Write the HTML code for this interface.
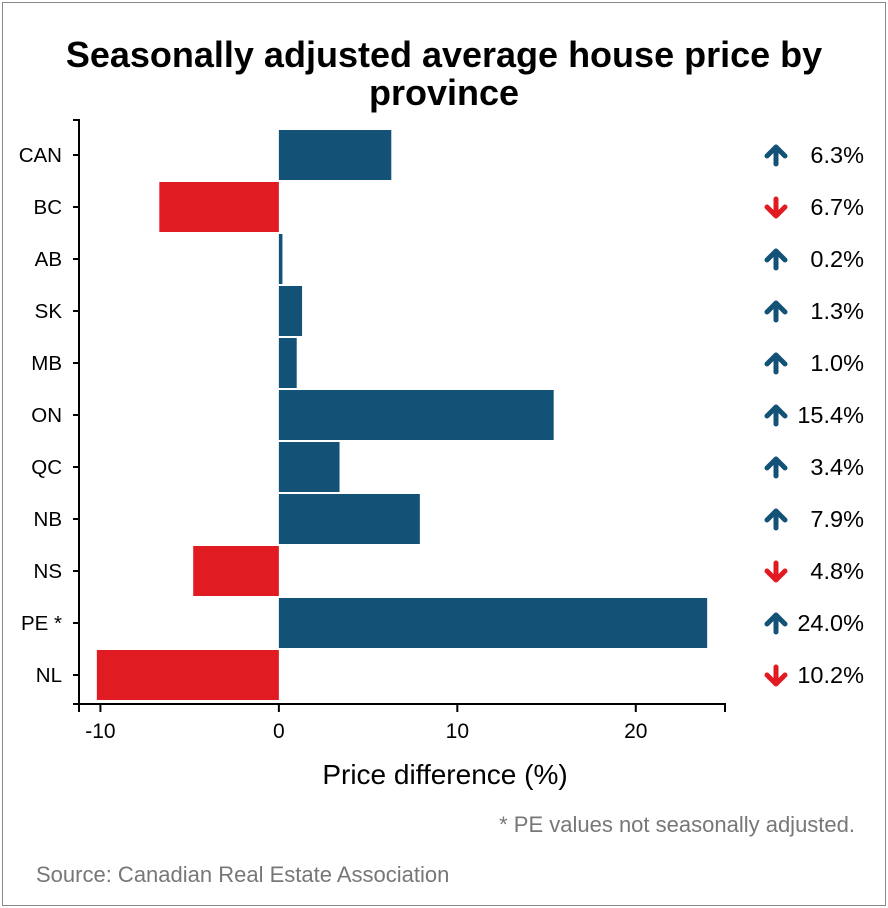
<!DOCTYPE html>
<html><head><meta charset="utf-8"><style>
body{margin:0;background:#fff;font-family:"Liberation Sans",Arial,sans-serif}
#frame{position:absolute;left:2px;top:2px;width:884px;height:904px;border:1px solid #888;box-sizing:border-box}
</style></head><body>
<div id="frame"></div>
<svg id="chart" width="888" height="908" style="position:absolute;left:0;top:0">
<text x="444" y="67" text-anchor="middle" font-size="36" font-weight="bold">Seasonally adjusted average house price by</text>
<text x="444" y="105" text-anchor="middle" font-size="36" font-weight="bold">province</text>
<text x="445" y="784" text-anchor="middle" font-size="28">Price difference (%)</text>
<text x="855" y="832" text-anchor="end" font-size="22" fill="#777">* PE values not seasonally adjusted.</text>
<text x="36" y="882" font-size="22" fill="#777">Source: Canadian Real Estate Association</text>
<g id="plot"></g>
</svg>
<script>
const categories=["CAN","BC","AB","SK","MB","ON","QC","NB","NS","PE *","NL"];
const values=[6.3,-6.7,0.2,1.3,1.0,15.4,3.4,7.9,-4.8,24.0,-10.2];
const xTicks=[-10,0,10,20];
const x0=79,x1=725,dMin=-11.2,dMax=25;
const yTop=129,step=52,barH=50,axisY=704;
const x=v=>x0+(v-dMin)/(dMax-dMin)*(x1-x0);
const y=i=>yTop+i*step;
const ns="http://www.w3.org/2000/svg",g=document.getElementById('plot');
function mk(t,a){const e=document.createElementNS(ns,t);for(const k in a)e.setAttribute(k,a[k]);g.appendChild(e);return e;}
categories.forEach((c,i)=>{
 const v=values[i],col=v>=0?"#135276":"#e11b22";
 const r=mk('rect',{x:Math.min(x(0),x(v)),y:y(i)+1,width:Math.abs(x(v)-x(0)),height:barH,fill:col});
 
 
 const cy=y(i)+1+barH/2;
 const t=mk('line',{x1:x0-6,x2:x0,y1:cy,y2:cy,stroke:"#000","stroke-width":2});
 
 
 const l=mk('text',{x:x0-17,y:cy+7,"text-anchor":"end","font-size":20.5});
 l.textContent=c;
 
 
 const up=v>=0;
 const a=mk('path',{d:up?`M776,${cy-8}L767,${cy+1}M776,${cy-8}L785,${cy+1}M776,${cy-8}V${cy+9}`:`M776,${cy+9}L767,${cy}M776,${cy+9}L785,${cy}M776,${cy+9}V${cy-8}`,stroke:col,"stroke-width":5,fill:"none","stroke-linecap":"round","stroke-linejoin":"round"});
 
 
 const p=mk('text',{x:864,y:cy+8,"text-anchor":"end","font-size":23.5});
 p.textContent=Math.abs(v).toFixed(1)+"%";
 
 
});
const ya=mk('path',{d:`M${x0-6},120H${x0}V${axisY}H${x0-6}`,stroke:"#000","stroke-width":2,fill:"none"});


const xa=mk('path',{d:`M${x0},${axisY+8}V${axisY}H${x1}V${axisY+8}`,stroke:"#000","stroke-width":2,fill:"none"});


xTicks.forEach(v=>{
 const t=mk('line',{x1:x(v),x2:x(v),y1:axisY,y2:axisY+8,stroke:"#000","stroke-width":2});
 
 
 const l=mk('text',{x:x(v),y:axisY+34,"text-anchor":"middle","font-size":21});
 l.textContent=v;
 
 
});
</script>
</body></html>
